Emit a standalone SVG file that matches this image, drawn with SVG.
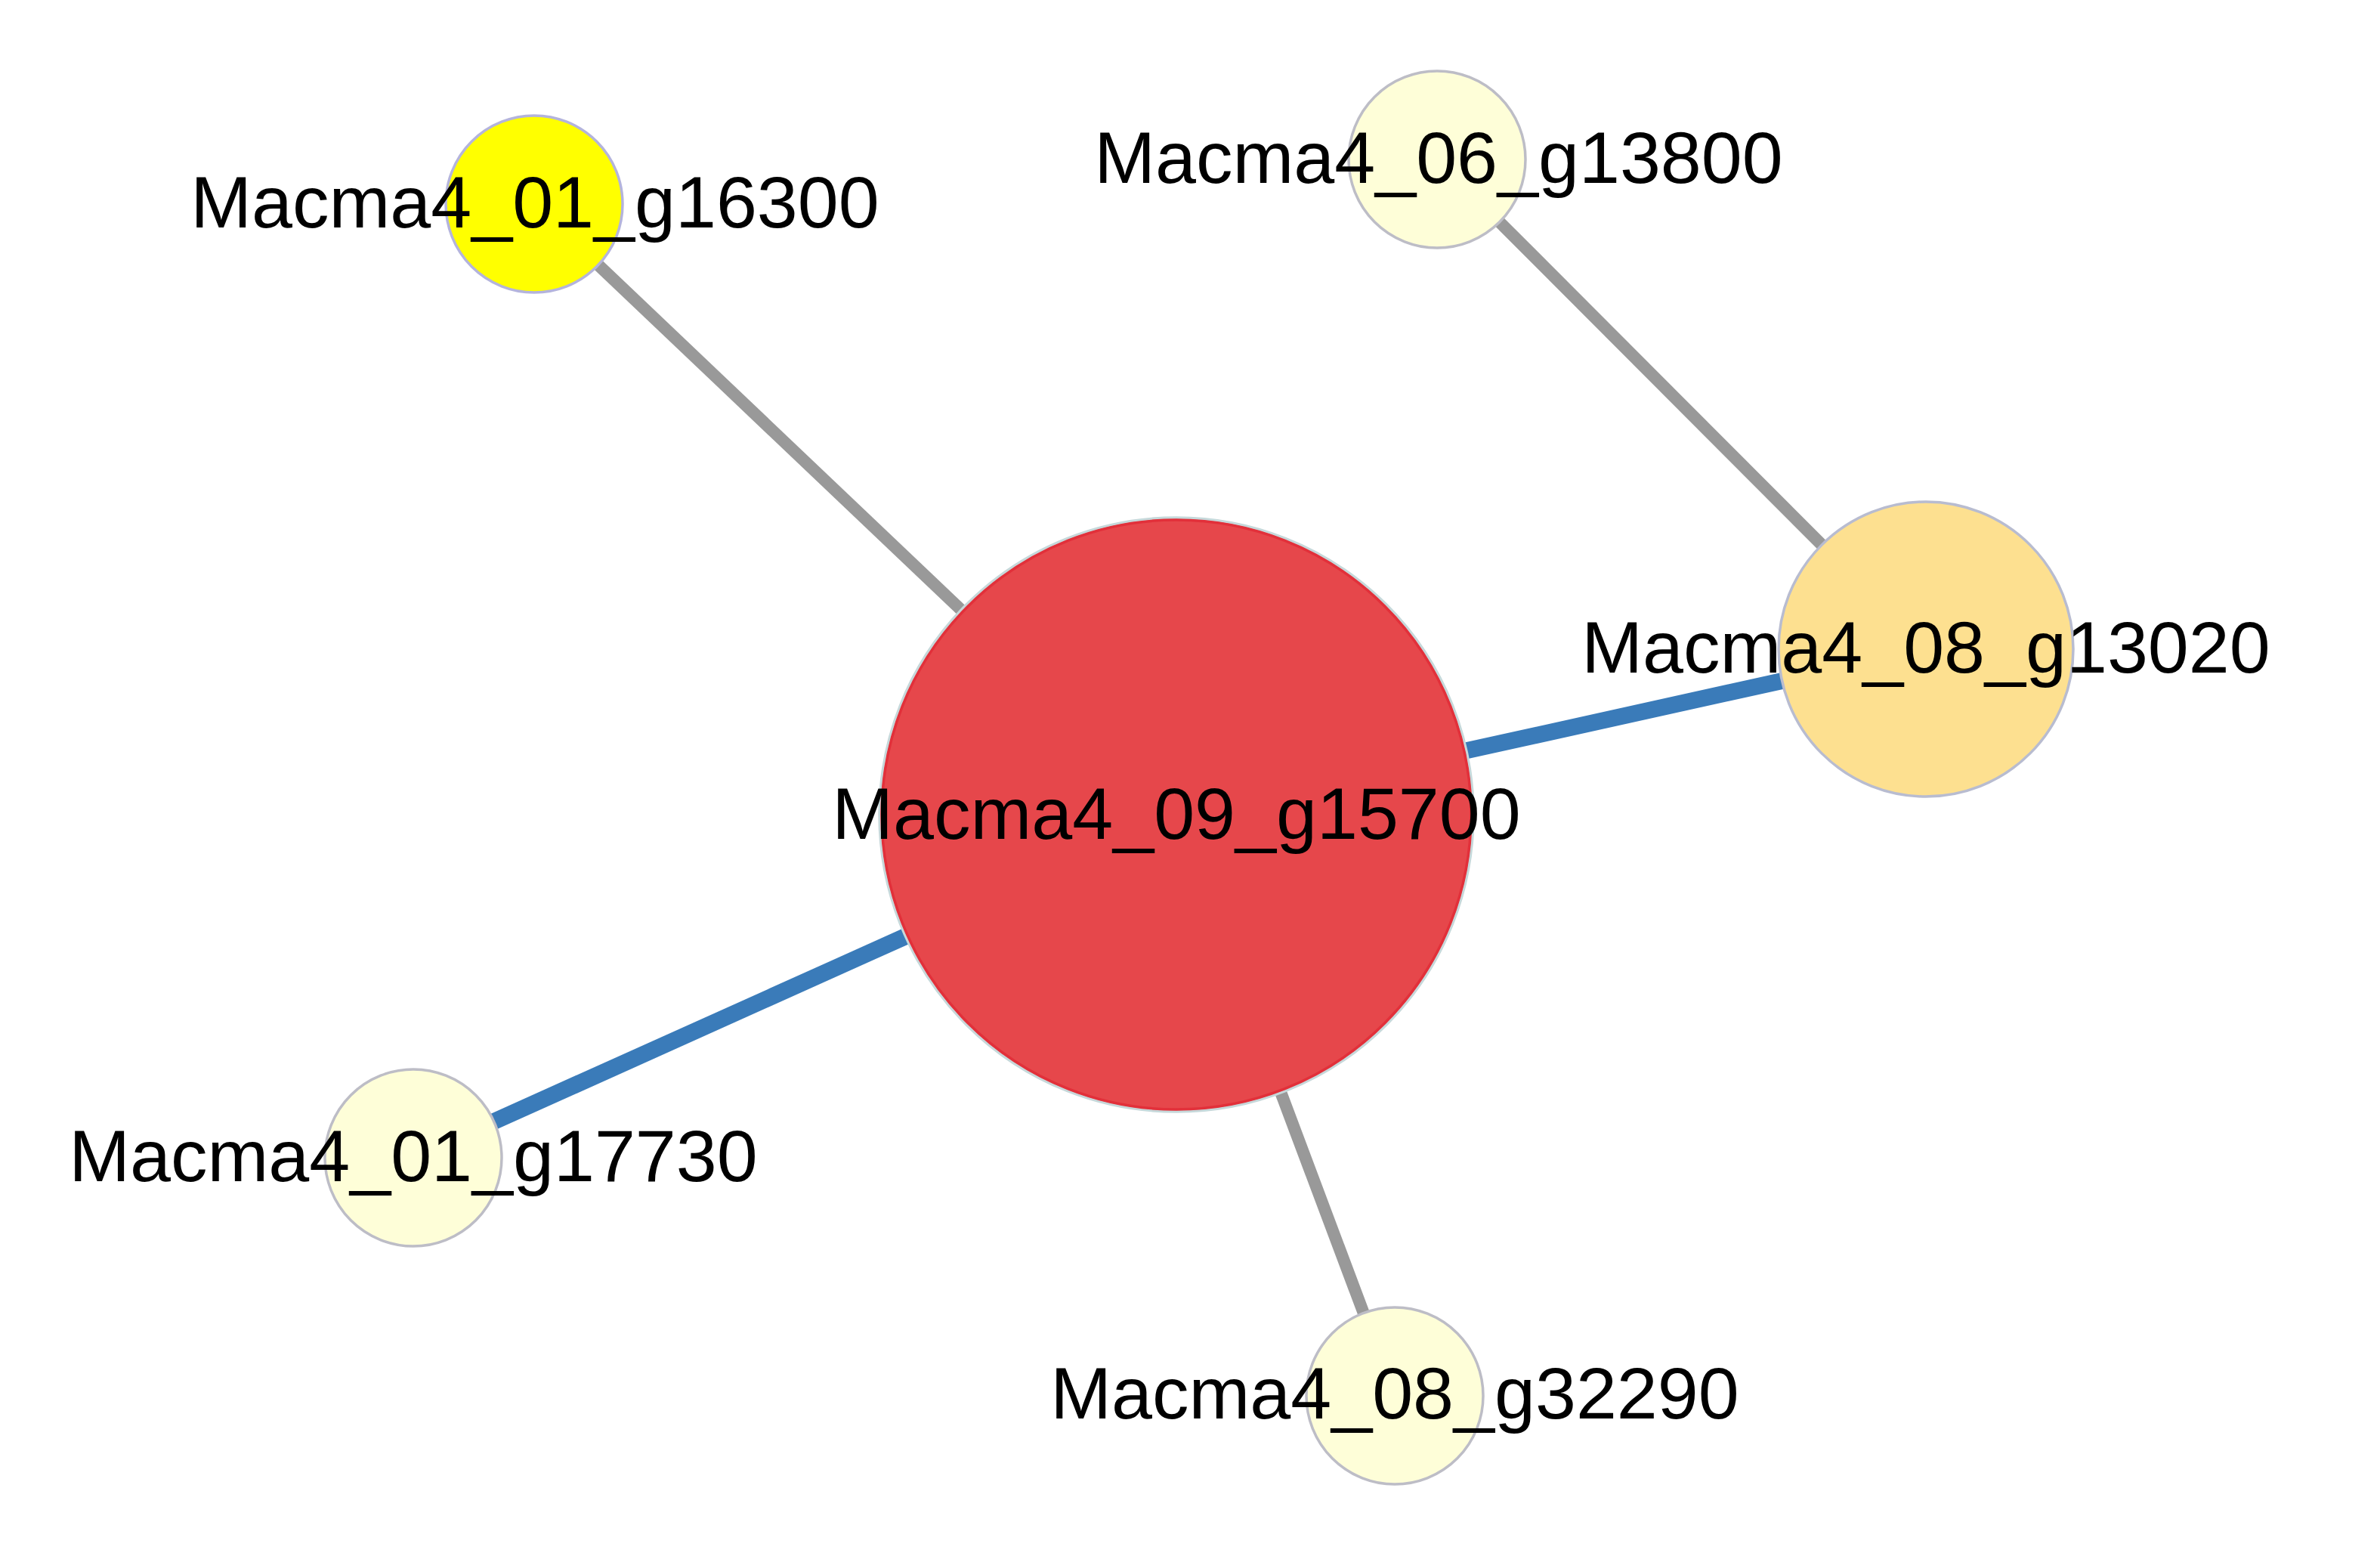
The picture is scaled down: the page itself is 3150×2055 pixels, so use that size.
<svg xmlns="http://www.w3.org/2000/svg" width="3150" height="2055" viewBox="0 0 3150 2055">
<style>
.edge-gray{stroke:#999999;stroke-width:16;fill:none;stroke-linecap:butt}
.edge-blue{stroke:#3A7BB9;stroke-width:22;fill:none;stroke-linecap:butt}
.node circle{stroke-width:3.5}
.light{fill:#FEFED8;stroke:#BDBDC6}
.label{font-family:"Liberation Sans",Arial,Helvetica,sans-serif;font-size:97px;fill:#000000;text-anchor:middle}
</style>
<rect width="3150" height="2055" fill="#FFFFFF"/>
<g id="connectors">
<line class="edge-gray" x1="791.8" y1="350.6" x2="1272.2" y2="807.2"/>
<line class="edge-gray" x1="1984.7" y1="293.8" x2="2411.2" y2="721.0"/>
<line class="edge-blue" x1="1940.8" y1="993.3" x2="2358.6" y2="901.0"/>
<line class="edge-blue" x1="1198.5" y1="1239.1" x2="653.7" y2="1484.0"/>
<line class="edge-gray" x1="1695.3" y1="1445.9" x2="1804.8" y2="1737.5"/>
</g>
<g id="node-Macma4_09_g15700" class="node">
<circle cx="1557" cy="1078" r="393" fill="#E6474B" stroke="#C6D8DA"/>
<circle cx="1557" cy="1078" r="390" fill="none" stroke="#E2303A" stroke-width="1.5"/>
<text class="label" x="1557" y="1110">Macma4_09_g15700</text>
</g>
<g id="node-Macma4_01_g16300" class="node">
<circle cx="707" cy="270" r="117" fill="#FFFF00" stroke="#B4B4DC"/>
<text class="label" x="708" y="301">Macma4_01_g16300</text>
</g>
<g id="node-Macma4_06_g13800" class="node">
<circle class="light" cx="1902" cy="211" r="117"/>
<text class="label" x="1904" y="242">Macma4_06_g13800</text>
</g>
<g id="node-Macma4_08_g13020" class="node">
<circle cx="2549" cy="859" r="195" fill="#FDE090" stroke="#B8BCD0"/>
<text class="label" x="2549" y="890">Macma4_08_g13020</text>
</g>
<g id="node-Macma4_01_g17730" class="node">
<circle class="light" cx="547" cy="1532" r="117"/>
<text class="label" x="547" y="1563">Macma4_01_g17730</text>
</g>
<g id="node-Macma4_08_g32290" class="node">
<circle class="light" cx="1846" cy="1847" r="117"/>
<text class="label" x="1846" y="1877">Macma4_08_g32290</text>
</g>
</svg>
